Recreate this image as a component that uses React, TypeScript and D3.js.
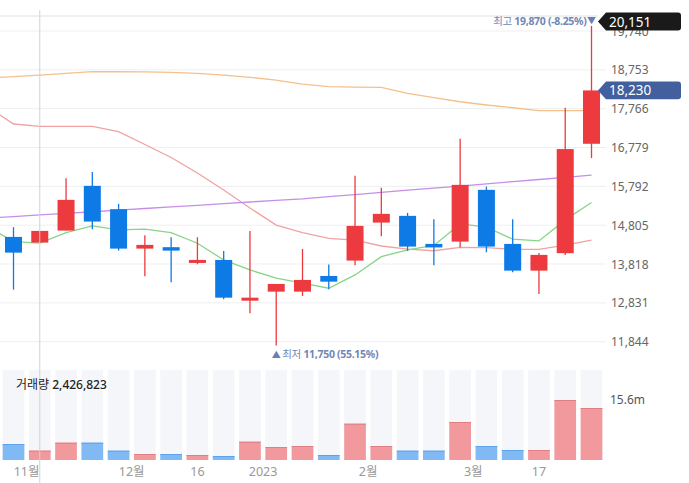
import React from "react";
import * as d3 from "d3";

// ---- data (weekly candles, index 0..22) ----
const opens = [14507, 14363, 14668, 15805, 15212, 14210, 14246, 13854, 13922, 12887, 13116, 13116, 13515, 13905, 14871, 15042, 14329, 14388, 15703, 14329, 13650, 14093, 16874];
const highs = [14754, 14660, 16001, 16154, 15347, 14551, 14500, 14500, 14151, 14660, 13312, 14202, 13803, 16059, 15754, 15118, 14958, 17001, 15787, 14958, 14100, 17789, 19870];
const lows = [13167, 14363, 14668, 14703, 14159, 13508, 13355, 13813, 12923, 12566, 11750, 13007, 13177, 13788, 14525, 14151, 13790, 14235, 14118, 13610, 13057, 14050, 16510];
const closes = [14108, 14660, 15449, 14897, 14210, 14304, 14159, 13922, 12963, 12963, 13312, 13414, 13370, 14787, 15093, 14261, 14240, 15830, 14261, 13650, 14050, 16739, 18230];
const volumes = [4160000, 2426823, 4500000, 4500000, 2420000, 1560000, 1560000, 1300000, 1040000, 4760000, 3380000, 3640000, 1300000, 9440000, 3640000, 2420000, 2420000, 9880000, 3640000, 2600000, 2600000, 15600000, 13520000];

// moving averages, first value is the week before the visible window
const ma5 = [14770, 14388, 14347, 14617, 14787, 14686, 14703, 14617, 14347, 13922, 13668, 13457, 13330, 13203, 13541, 14006, 14177, 14291, 14838, 14754, 14449, 14406, 14940, 15380];
const ma20 = [17825, 17376, 17317, 17317, 17317, 17180, 16855, 16525, 16131, 15699, 15241, 14809, 14614, 14471, 14428, 14276, 14199, 14156, 14243, 14233, 14192, 14192, 14301, 14428];
const ma60 = [18545, 18578, 18621, 18664, 18705, 18705, 18702, 18689, 18664, 18621, 18562, 18494, 18392, 18324, 18316, 18308, 18156, 18049, 17942, 17859, 17790, 17714, 17714, 17714];
const ma120 = [14985, 15025, 15066, 15107, 15147, 15188, 15229, 15269, 15310, 15353, 15394, 15434, 15475, 15531, 15584, 15638, 15694, 15747, 15800, 15856, 15912, 15966, 16021, 16075];

const yTicks = [11844, 12831, 13818, 14805, 15792, 16779, 17766, 18753, 19740];
const xTickPos = [0.5, 4.5, 7, 9.5, 13.5, 17.5, 20];
const xTickLabels = ["11월", "12월", "16", "2023", "2월", "3월", "17"];

const highValue = 19870;
const highPct = "-8.25%";
const lowValue = 11750;
const lowPct = "55.15%";
const lastPrice = 18230;
const cursorPrice = 20151;
const cursorIndex = 1;
const volMaxLabel = "15.6m";
const volMaxValue = 15600000;

const RED = "#ec3a3e";
const BLUE = "#0e7ae6";
const VRED = "#f1999c";
const VBLUE = "#80b9f4";
const FONT = "'Noto Sans', 'Noto Sans CJK KR', sans-serif";

export default function App() {
  const W = 689, H = 483;
  const plotRight = 606;
  const x = d3.scaleLinear().domain([0, 22]).range([13.5, 591.5]);
  const y = d3.scaleLinear().domain([11844, 19740]).range([341.7, 31]);
  const vy = d3.scaleLinear().domain([0, 23400000]).range([460, 370]);
  const candleW = 17;
  const volW = 21.7;
  const fmt = d3.format(",");

  const maLine = (arr: number[]) =>
    d3.line<number>().x((_, i) => x(i - 1)).y((v) => y(v))(arr) || "";

  const maDefs: [number[], string][] = [
    [ma60, "#f4c08c"],
    [ma20, "#f0a2a2"],
    [ma120, "#c48fe8"],
    [ma5, "#86d486"],
  ];

  const hiIdx = highs.indexOf(highValue);
  const loIdx = lows.indexOf(lowValue);
  const lp = y(lastPrice);

  return (
    <svg width={W} height={H} style={{ position: "absolute", left: 0, top: 0, fontFamily: FONT }}>
      <defs>
        <clipPath id="plot">
          <rect x={0} y={0} width={plotRight} height={360} />
        </clipPath>
      </defs>
      <rect x={0} y={0} width={W} height={H} fill="#fff" />
      {/* grid */}
      {yTicks.map((t) => (
        <line key={t} x1={0} x2={plotRight} y1={y(t)} y2={y(t)} stroke="#efefef" strokeWidth={1} />
      ))}
      {/* volume background columns */}
      {volumes.map((_, i) => (
        <rect key={"bg" + i} x={x(i) - volW / 2} y={vy.range()[1]} width={volW} height={vy.range()[0] - vy.range()[1]} fill="#f5f6fa" />
      ))}
      {/* volume bars */}
      {volumes.map((v, i) => {
        const up = closes[i] >= opens[i];
        return (
          <g key={"v" + i}>
            <rect x={x(i) - volW / 2} y={vy(v)} width={volW} height={vy(0) - vy(v)} fill={up ? VRED : VBLUE} />
            <line x1={x(i) - volW / 2} x2={x(i) + volW / 2} y1={vy(v) + 0.5} y2={vy(v) + 0.5} stroke={up ? "#e07f83" : "#5ea2ea"} strokeWidth={1} />
          </g>
        );
      })}
      {/* moving averages */}
      <g clipPath="url(#plot)">
        {maDefs.map(([arr, c], k) => (
          <path key={k} d={maLine(arr)} fill="none" stroke={c} strokeWidth={1.3} />
        ))}
      </g>
      {/* candles */}
      {opens.map((o, i) => {
        const c = closes[i];
        const up = c >= o;
        const col = up ? RED : BLUE;
        const top = y(Math.max(o, c));
        const bot = y(Math.min(o, c));
        return (
          <g key={"c" + i}>
            <line x1={x(i)} x2={x(i)} y1={y(highs[i])} y2={y(lows[i])} stroke={col} strokeWidth={1.3} />
            <rect x={x(i) - candleW / 2} y={top} width={candleW} height={Math.max(bot - top, 3)} fill={col} />
          </g>
        );
      })}
      {/* crosshair */}
      <line x1={x(cursorIndex)} x2={x(cursorIndex)} y1={10} y2={H} stroke="#cfd2d6" strokeWidth={1} />
      <line x1={0} x2={598} y1={16} y2={16} stroke="#dcdfe3" strokeWidth={1} />
      {/* y axis labels */}
      {yTicks.map((t) => (
        <text key={"yl" + t} x={611} y={y(t) + 4.5} fontSize={12} fill="#666">
          {fmt(t)}
        </text>
      ))}
      {/* x axis labels */}
      {xTickPos.map((p, k) => (
        <text key={"xl" + k} x={x(p)} y={476} fontSize={12.5} fill="#999" textAnchor="middle">
          {xTickLabels[k]}
        </text>
      ))}
      {/* volume label */}
      <text x={16} y={389} fontSize={12} fill="#222">
        거래량 <tspan fontWeight={500}>{fmt(volumes[cursorIndex])}</tspan>
      </text>
      <text x={610} y={vy(volMaxValue) + 4} fontSize={12} fill="#555">
        {volMaxLabel}
      </text>
      {/* high / low annotations */}
      <text x={x(hiIdx) - 5} y={25} fontSize={10.5} letterSpacing={-0.3} fill="#7086b6" textAnchor="end">
        <tspan>최고 </tspan>
        <tspan fontWeight={700}>{fmt(highValue)} ({highPct})</tspan>
      </text>
      <text x={x(hiIdx)} y={24} fontSize={9} fill="#6a80b4" textAnchor="middle">▼</text>
      <text x={x(loIdx)} y={358} fontSize={9} fill="#6a80b4" textAnchor="middle">▲</text>
      <text x={x(loIdx) + 6} y={358} fontSize={10.5} letterSpacing={-0.3} fill="#7086b6">
        <tspan>최저 </tspan>
        <tspan fontWeight={700}>{fmt(lowValue)} ({lowPct})</tspan>
      </text>
      {/* price tags */}
      <path d="M598,21.5 L606,12.5 L678,12.5 Q681,12.5 681,15.5 L681,27.5 Q681,30.5 678,30.5 L606,30.5 Z" fill="#1a1a1a" />
      <text x={609} y={27} fontSize={13.5} fill="#fff">{fmt(cursorPrice)}</text>
      <path
        d={`M598,${lp} L606,${lp - 8.8} L678,${lp - 8.8} Q681,${lp - 8.8} 681,${lp - 5.8} L681,${lp + 5.8} Q681,${lp + 8.8} 678,${lp + 8.8} L606,${lp + 8.8} Z`}
        fill="#42609e"
      />
      <text x={609} y={lp + 5} fontSize={13.5} fill="#fff">{fmt(lastPrice)}</text>
    </svg>
  );
}
